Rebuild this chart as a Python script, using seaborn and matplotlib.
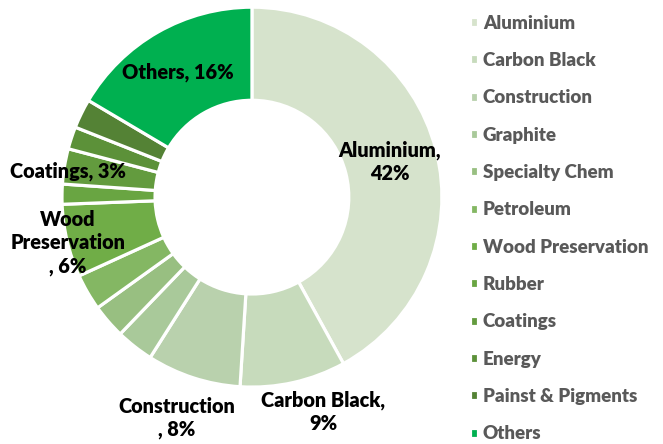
import numpy as np
import pandas as pd
import matplotlib
matplotlib.use('Agg')
import matplotlib.pyplot as plt
import seaborn as sns

#%%
sectors = ['Aluminium', 'Carbon Black', 'Construction', 'Graphite', 'Specialty Chem',
           'Petroleum', 'Wood Preservation', 'Rubber', 'Coatings', 'Energy',
           'Painst & Pigments', 'Others']
shares = [42, 9, 8, 3.2, 2.9, 3.1, 6.2, 1.7, 3, 1.9, 2.5, 16.5]
colors = ['#d6e3cc', '#c7dbbc', '#b9d1ad', '#a9c99a', '#98bf81', '#84b763',
          '#70ad47', '#69a542', '#639b3e', '#5c9139', '#548235', '#00b050']

# labels shown on the chart
shown = {'Aluminium': 'Aluminium,\n42%', 'Carbon Black': 'Carbon Black,\n9%',
         'Construction': 'Construction\n, 8%', 'Coatings': 'Coatings, 3%',
         'Wood Preservation': 'Wood\nPreservation\n, 6%', 'Others': 'Others, 16%'}
label_pos = {'Aluminium': (0.726, 0.184), 'Carbon Black': (0.374, -1.13),
             'Construction': (-0.395, -1.163), 'Coatings': (-0.968, 0.137),
             'Wood Preservation': (-0.968, -0.242), 'Others': (-0.39, 0.66)}

df = pd.DataFrame({'sector': sectors, 'share': shares, 'color': colors})

#%%
sns.set_theme(style='white')
plt.rcParams['font.family'] = ['Lato', 'DejaVu Sans']

fig = plt.figure(figsize=(6.63, 4.44), dpi=100)
ax = fig.add_axes([0.0935, 0.128, 0.573, 0.856])
wedges, _ = ax.pie(df['share'], colors=df['color'], startangle=90, counterclock=False,
                   radius=1, wedgeprops=dict(width=0.49, edgecolor='white', linewidth=2.3))
ax.set_xlim(-1, 1)
ax.set_ylim(-1, 1)
ax.set_aspect('equal')
ax.axis('off')

for name, txt in shown.items():
    x, y = label_pos[name]
    ax.text(x, y, txt, ha='center', va='center', fontsize=14.3, fontweight='heavy',
            color='black', linespacing=1.25)

leg = fig.legend(wedges, df['sector'], loc='upper left', bbox_to_anchor=(0.683, 1.005),
                 frameon=False, handlelength=0.45, handleheight=0.45, handletextpad=0.25,
                 labelspacing=1.085, prop=dict(size=13.5, weight='heavy'))
for t in leg.get_texts():
    t.set_color('#595959')

plt.savefig('out.png', dpi=100)
